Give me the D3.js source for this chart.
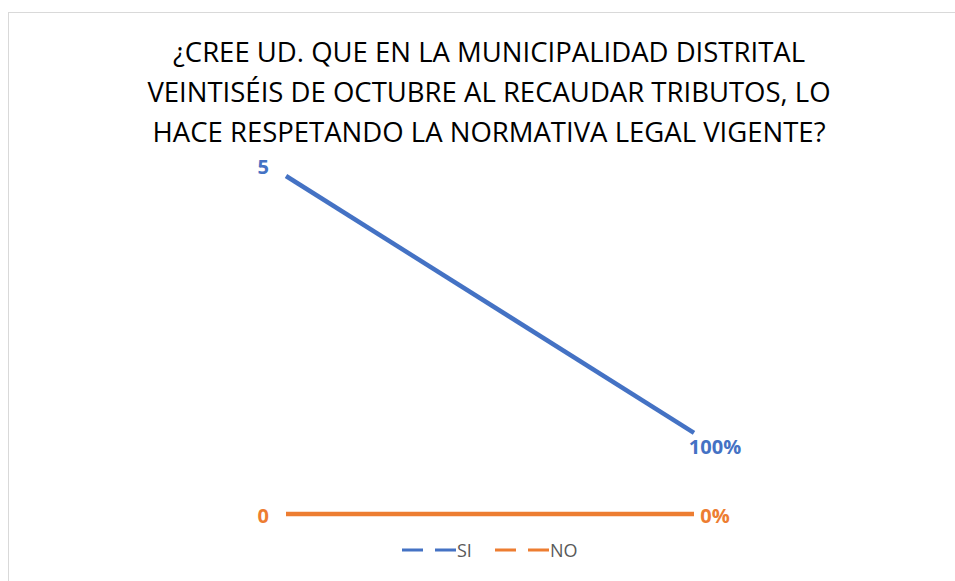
<!DOCTYPE html>
<html>
<head>
<meta charset="utf-8">
<script src="https://cdn.jsdelivr.net/npm/d3@7"></script>
<style>
  body { margin: 0; background: #fff; }
</style>
</head>
<body>
<div id="chart"></div>
<script>
var categories = ["1", "2"];
var siValues = [5, 1.2];
var noValues = [0, 0];
var siLabels = ["5", "100%"];
var noLabels = ["0", "0%"];
var titleLines = [
  "¿CREE UD. QUE EN LA MUNICIPALIDAD DISTRITAL",
  "VEINTISÉIS DE OCTUBRE AL RECAUDAR TRIBUTOS, LO",
  "HACE RESPETANDO LA NORMATIVA LEGAL VIGENTE?"
];
var seriesNames = ["SI", "NO"];

var width = 955, height = 581;
var blue = "#4472C4", orange = "#ED7D31";
var font = "'Open Sans', 'Noto Sans', sans-serif";

var svg = d3.select("#chart").append("svg")
    .attr("width", width)
    .attr("height", height);

// chart frame
svg.append("rect")
    .attr("x", 8.5).attr("y", 12.5)
    .attr("width", 960).attr("height", 600)
    .attr("fill", "#fff")
    .attr("stroke", "#d9d9d9")
    .attr("stroke-width", 1);

// title
svg.append("g").selectAll("text")
    .data(titleLines)
  .enter().append("text")
    .attr("x", 489)
    .attr("y", function(d, i) { return 62 + i * 40; })
    .attr("text-anchor", "middle")
    .style("font-family", font)
    .style("font-size", "27.5px")
    .attr("fill", "#000")
    .text(function(d) { return d; });

var x = d3.scalePoint()
    .domain(categories)
    .range([286, 694]);

var y = d3.scaleLinear()
    .domain([0, 5])
    .range([514, 176]);

var line = d3.line()
    .x(function(d, i) { return x(categories[i]); })
    .y(function(d) { return y(d); });

svg.append("path")
    .datum(siValues)
    .attr("fill", "none")
    .attr("stroke", blue)
    .attr("stroke-width", 4.5)
    .attr("d", line);

svg.append("path")
    .datum(noValues)
    .attr("fill", "none")
    .attr("stroke", orange)
    .attr("stroke-width", 4.5)
    .attr("d", line);

// data labels
function addLabels(values, labels, color, dy) {
  svg.append("g").selectAll("text")
      .data(values)
    .enter().append("text")
      .attr("x", function(d, i) { return i == 0 ? x(categories[i]) - 17 : x(categories[i]) + 21; })
      .attr("y", function(d, i) { return y(d) + dy[i]; })
      .attr("text-anchor", function(d, i) { return i == 0 ? "end" : "middle"; })
      .style("font-family", font)
      .style("font-size", "20px")
      .style("font-weight", "bold")
      .attr("fill", color)
      .text(function(d, i) { return labels[i]; });
}
addLabels(siValues, siLabels, blue, [-2, 21]);
addLabels(noValues, noLabels, orange, [9, 9]);

// legend
var legend = svg.append("g");
var legendItems = [
  { name: seriesNames[0], color: blue, x: 402 },
  { name: seriesNames[1], color: orange, x: 495 }
];
legendItems.forEach(function(it) {
  legend.append("line")
      .attr("x1", it.x).attr("x2", it.x + 54)
      .attr("y1", 550).attr("y2", 550)
      .attr("stroke", it.color)
      .attr("stroke-width", 3)
      .attr("stroke-dasharray", "21,12");
  legend.append("text")
      .attr("x", it.x + 55)
      .attr("y", 557)
      .style("font-family", font)
      .style("font-size", "18px")
      .attr("fill", "#595959")
      .text(it.name);
});
</script>
</body>
</html>
